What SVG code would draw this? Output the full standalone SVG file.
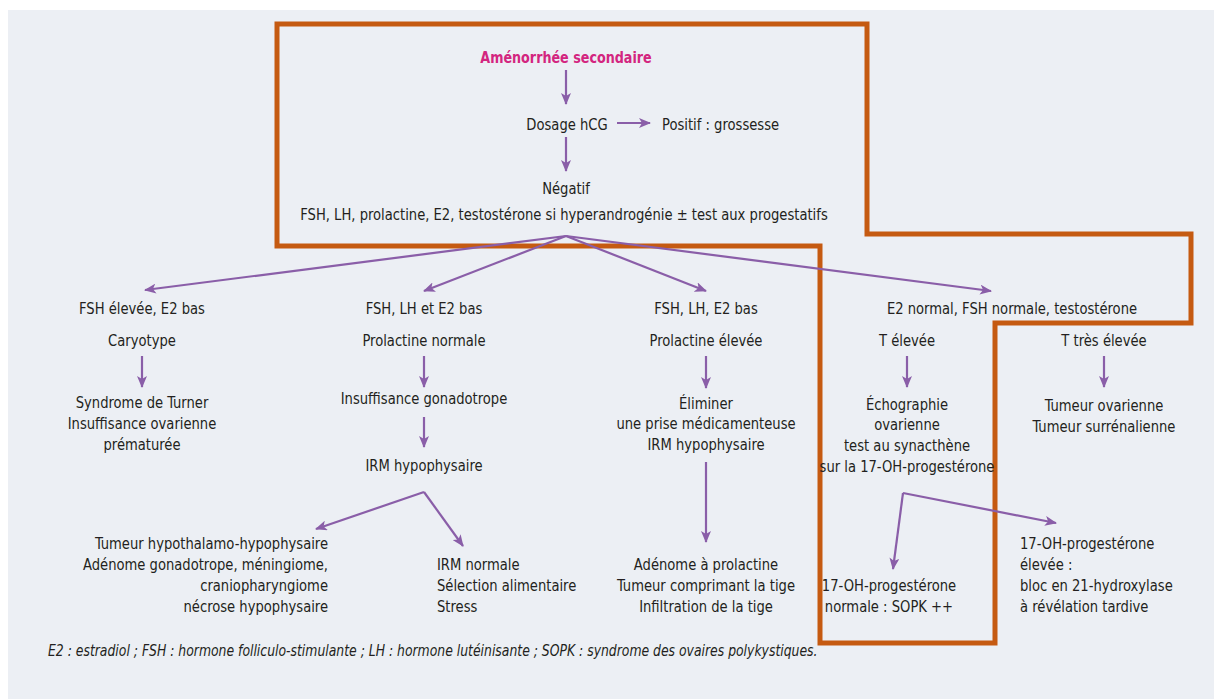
<svg xmlns="http://www.w3.org/2000/svg" width="1214" height="699" viewBox="0 0 1214 699">
<defs>
<marker id="ah" viewBox="0 0 12 10" refX="11" refY="5" markerWidth="12" markerHeight="10" markerUnits="userSpaceOnUse" orient="auto">
<path d="M0,0 L12,5 L0,10 L3,5 Z" fill="#8a5ea8"/>
</marker>
<style>
text{font-family:"DejaVu Sans Condensed","Liberation Sans",sans-serif;font-size:16.5px;fill:#231f20}
.c{text-anchor:middle}
.r{text-anchor:end}
.title{font-weight:bold;fill:#d3257f;font-size:16px}
.foot{font-style:italic;font-size:15.6px}
.conn line{stroke:#8a5ea8;stroke-width:2.2;fill:none;marker-end:url(#ah)}
</style>
</defs>
<rect x="0" y="0" width="1214" height="699" fill="#ffffff"/>
<rect x="8" y="10" width="1206" height="689" fill="#eceff4"/>
<polygon points="277,24 867,24 867,234 1191,234 1191,323 995,323 995,643 820,643 820,246 277,246" fill="none" stroke="#c55a11" stroke-width="5"/>
<g id="connectors" class="conn">
<line x1="566" y1="70" x2="566" y2="104"/>
<line x1="617" y1="123" x2="650" y2="123"/>
<line x1="566" y1="137" x2="566" y2="171"/>
<line x1="566" y1="236" x2="145" y2="290"/>
<line x1="566" y1="236" x2="424" y2="291"/>
<line x1="566" y1="236" x2="706" y2="291"/>
<line x1="566" y1="236" x2="991" y2="291"/>
<line x1="142" y1="356" x2="142" y2="387"/>
<line x1="424" y1="356" x2="424" y2="387"/>
<line x1="706" y1="356" x2="706" y2="388"/>
<line x1="907" y1="356" x2="907" y2="387"/>
<line x1="1104" y1="356" x2="1104" y2="387"/>
<line x1="424" y1="417" x2="424" y2="447"/>
<line x1="424" y1="492" x2="316" y2="529"/>
<line x1="424" y1="492" x2="463" y2="546"/>
<line x1="706" y1="462" x2="706" y2="542"/>
<line x1="903" y1="493" x2="893" y2="569"/>
<line x1="903" y1="493" x2="1056" y2="523"/>
</g>
<g id="n-amen"><text class="c title" transform="translate(566,63) scale(0.885,1)">Aménorrhée secondaire</text></g>
<g id="n-hcg"><text class="c" transform="translate(567,130) scale(0.885,1)">Dosage hCG</text></g>
<g id="n-positif"><text transform="translate(662,130) scale(0.885,1)">Positif : grossesse</text></g>
<g id="n-negatif"><text class="c" transform="translate(566,194) scale(0.885,1)">Négatif</text><text class="c" transform="translate(564,220) scale(0.885,1)">FSH, LH, prolactine, E2, testostérone si hyperandrogénie ± test aux progestatifs</text></g>
<g id="n-col1"><text class="c" transform="translate(142,314) scale(0.885,1)">FSH élevée, E2 bas</text><text class="c" transform="translate(142,346) scale(0.885,1)">Caryotype</text></g>
<g id="n-turner"><text class="c" transform="translate(142,408) scale(0.885,1)">Syndrome de Turner</text><text class="c" transform="translate(142,429) scale(0.885,1)">Insuffisance ovarienne</text><text class="c" transform="translate(142,450) scale(0.885,1)">prématurée</text></g>
<g id="n-col2"><text class="c" transform="translate(424,314) scale(0.885,1)">FSH, LH et E2 bas</text><text class="c" transform="translate(424,346) scale(0.885,1)">Prolactine normale</text></g>
<g id="n-gonado"><text class="c" transform="translate(424,404) scale(0.885,1)">Insuffisance gonadotrope</text></g>
<g id="n-irm"><text class="c" transform="translate(424,471) scale(0.885,1)">IRM hypophysaire</text></g>
<g id="n-tumeur"><text class="r" transform="translate(328,549) scale(0.885,1)">Tumeur hypothalamo-hypophysaire</text><text class="r" transform="translate(328,570) scale(0.885,1)">Adénome gonadotrope, méningiome,</text><text class="r" transform="translate(328,591) scale(0.885,1)">craniopharyngiome</text><text class="r" transform="translate(328,612) scale(0.885,1)">nécrose hypophysaire</text></g>
<g id="n-irmnormale"><text transform="translate(437,570) scale(0.885,1)">IRM normale</text><text transform="translate(437,591) scale(0.885,1)">Sélection alimentaire</text><text transform="translate(437,612) scale(0.885,1)">Stress</text></g>
<g id="n-col3"><text class="c" transform="translate(706,314) scale(0.885,1)">FSH, LH, E2 bas</text><text class="c" transform="translate(706,346) scale(0.885,1)">Prolactine élevée</text></g>
<g id="n-eliminer"><text class="c" transform="translate(706,409) scale(0.885,1)">Éliminer</text><text class="c" transform="translate(706,429) scale(0.885,1)">une prise médicamenteuse</text><text class="c" transform="translate(706,450) scale(0.885,1)">IRM hypophysaire</text></g>
<g id="n-adenome"><text class="c" transform="translate(706,570) scale(0.885,1)">Adénome à prolactine</text><text class="c" transform="translate(706,591) scale(0.885,1)">Tumeur comprimant la tige</text><text class="c" transform="translate(706,612) scale(0.885,1)">Infiltration de la tige</text></g>
<g id="n-col4"><text class="c" transform="translate(1012,314) scale(0.885,1)">E2 normal, FSH normale, testostérone</text></g>
<g id="n-televee"><text class="c" transform="translate(907,346) scale(0.885,1)">T élevée</text></g>
<g id="n-echo"><text class="c" transform="translate(907,410) scale(0.885,1)">Échographie</text><text class="c" transform="translate(907,430) scale(0.885,1)">ovarienne</text><text class="c" transform="translate(907,451) scale(0.885,1)">test au synacthène</text><text class="c" transform="translate(907,472) scale(0.885,1)">sur la 17-OH-progestérone</text></g>
<g id="n-sopk"><text class="c" transform="translate(889,591) scale(0.885,1)">17-OH-progestérone</text><text class="c" transform="translate(889,612) scale(0.885,1)">normale : SOPK ++</text></g>
<g id="n-bloc"><text transform="translate(1020,549) scale(0.885,1)">17-OH-progestérone</text><text transform="translate(1020,570) scale(0.885,1)">élevée :</text><text transform="translate(1020,591) scale(0.885,1)">bloc en 21-hydroxylase</text><text transform="translate(1020,612) scale(0.885,1)">à révélation tardive</text></g>
<g id="n-ttres"><text class="c" transform="translate(1104,346) scale(0.885,1)">T très élevée</text></g>
<g id="n-tumov"><text class="c" transform="translate(1104,411) scale(0.885,1)">Tumeur ovarienne</text><text class="c" transform="translate(1104,432) scale(0.885,1)">Tumeur surrénalienne</text></g>
<g id="n-foot"><text class="foot" transform="translate(48,656) scale(0.885,1)">E2 : estradiol ; FSH : hormone folliculo-stimulante ; LH : hormone lutéinisante ; SOPK : syndrome des ovaires polykystiques.</text></g>
</svg>
